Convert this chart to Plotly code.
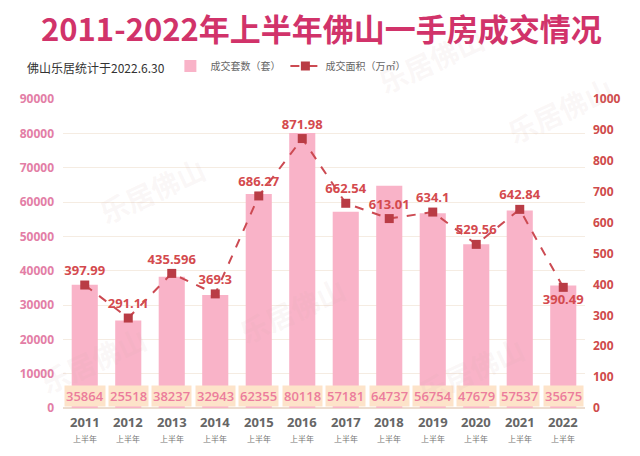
import plotly.graph_objects as go

years = ["2011", "2012", "2013", "2014", "2015", "2016", "2017", "2018", "2019", "2020", "2021", "2022"]
units = [35864, 25518, 38237, 32943, 62355, 80118, 57181, 64737, 56754, 47679, 57537, 35675]
area = [397.99, 291.11, 435.596, 369.3, 686.27, 871.98, 662.54, 613.01, 634.1, 529.56, 642.84, 390.49]
area_labels = ["397.99", "291.11", "435.596", "369.3", "686.27", "871.98", "662.54", "613.01", "634.1", "529.56", "642.84", "390.49"]
left_ticks = [0, 10000, 20000, 30000, 40000, 50000, 60000, 70000, 80000, 90000]
right_ticks = [0, 100, 200, 300, 400, 500, 600, 700, 800, 900, 1000]

FONT = "Open Sans, Noto Sans CJK SC, sans-serif"
CJK = "Noto Sans CJK SC, sans-serif"

# screenshot pixel -> paper coords (plot area spans x 60..585, y 99..408 in the screenshot)
def px(x):
    return (x - 60) / 525.0

def py(y):
    return (408 - y) / 309.0

fig = go.Figure()
fig.add_trace(go.Bar(
    x=years, y=units, name="成交套数（套）",
    marker=dict(color="#f9b3c8", line=dict(width=0)),
    yaxis="y",
))
textpos = ["top center"] * len(years)
textpos[-1] = "bottom center"
fig.add_trace(go.Scatter(
    x=years, y=area, name="成交面积（万㎡）", yaxis="y2",
    mode="lines+markers+text",
    line=dict(color="#cc4a52", width=2, dash="dash"),
    marker=dict(symbol="square", size=9, color="#b93c45"),
    text=area_labels, textposition=textpos,
    textfont=dict(family=FONT, size=13, color="#d44a4e", weight="bold"),
    cliponaxis=False,
))

annotations = []
for i, (yv, u) in enumerate(zip(years, units)):
    annotations.append(dict(
        x=i, y=3500, xref="x", yref="y", text=str(u), showarrow=False,
        font=dict(family=FONT, size=13, color="#ec7d9c", weight=600),
        bgcolor="#fde3c9", borderpad=1, yanchor="middle",
    ))
    annotations.append(dict(
        x=i, y=py(422), xref="x", yref="paper", text="<b>" + yv + "</b>", showarrow=False,
        font=dict(family=FONT, size=13, color="#666666"), yanchor="middle",
    ))
    annotations.append(dict(
        x=i, y=py(438), xref="x", yref="paper", text="上半年", showarrow=False,
        font=dict(family=CJK, size=8, color="#777777"), yanchor="middle",
    ))

annotations.append(dict(
    x=px(320), y=py(28), xref="paper", yref="paper",
    text="<b>2011-2022年上半年佛山一手房成交情况</b>",
    showarrow=False, xanchor="center", yanchor="middle",
    font=dict(family=CJK, size=31, color="#d1336a"),
))
annotations.append(dict(
    x=px(22), y=py(68), xref="paper", yref="paper",
    text="佛山乐居统计于2022.6.30", showarrow=False, xanchor="left", yanchor="middle",
    font=dict(family=CJK, size=12, color="#333333"),
))

# faint watermarks
for wx, wy in [(150, 190), (290, 310), (470, 370), (560, 110), (90, 360), (430, 60)]:
    annotations.append(dict(
        x=px(wx), y=py(wy), xref="paper", yref="paper",
        text="<b>乐居佛山</b>", showarrow=False, textangle=-25,
        xanchor="center", yanchor="middle",
        font=dict(family=CJK, size=28, color="rgba(210,170,170,0.10)"),
    ))

fig.update_layout(
    width=640, height=456,
    margin=dict(l=52, r=63, t=91, b=56),
    paper_bgcolor="white", plot_bgcolor="white",
    bargap=0.4,
    showlegend=True,
    legend=dict(orientation="h", x=px(168), y=py(66),
                xanchor="left", yanchor="middle",
                font=dict(family=CJK, size=10, color="#666666"),
                bgcolor="rgba(0,0,0,0)", itemwidth=30, tracegroupgap=0),
    xaxis=dict(type="category", showticklabels=False, showline=False, showgrid=False, ticks="",
               range=[-0.5, 11.5]),
    yaxis=dict(range=[0, 90000], tickvals=left_ticks, tickformat="d", showgrid=True,
               gridcolor="#f5ece2", gridwidth=1, zeroline=True, zerolinecolor="#ecdccf",
               tickfont=dict(family=FONT, size=12, color="#e37ea6", weight="bold"),
               ticks="", ticklabelstandoff=8),
    yaxis2=dict(range=[0, 1000], tickvals=right_ticks, overlaying="y", side="right",
                showgrid=False, zeroline=False,
                tickfont=dict(family=FONT, size=12, color="#cf4b4b", weight="bold"),
                ticks="", ticklabelstandoff=7),
    annotations=annotations,
)

fig.write_html("out.html")
